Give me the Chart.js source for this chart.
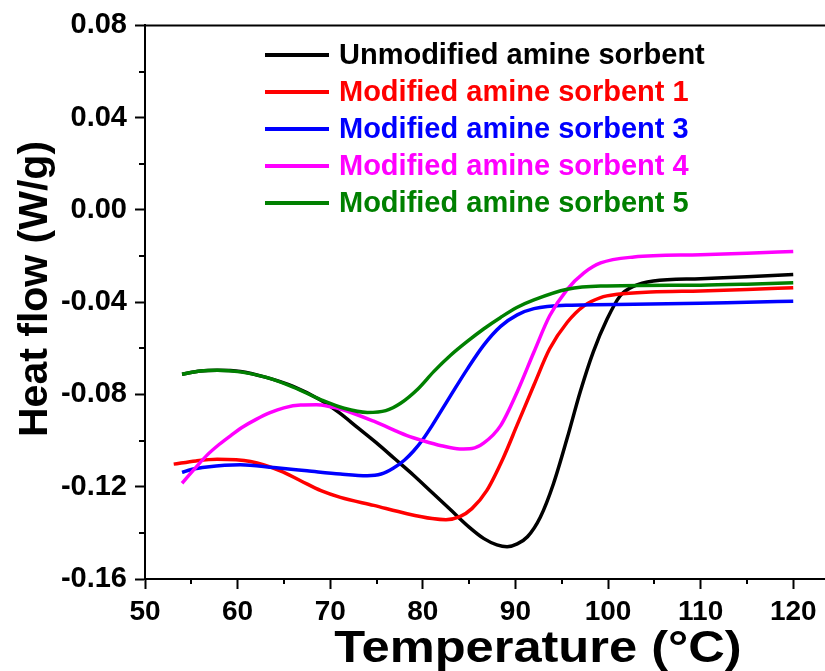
<!DOCTYPE html>
<html>
<head>
<meta charset="utf-8">
<script src="https://cdn.jsdelivr.net/npm/chart.js@4.4.0/dist/chart.umd.min.js"></script>
<style>
  body { margin: 0; background: #fff; }
</style>
</head>
<body>
<canvas id="c" width="825" height="671"></canvas>
<script>
// series labels + colours
var seriesNames = ['Unmodified amine sorbent', 'Modified amine sorbent 1', 'Modified amine sorbent 3',
                   'Modified amine sorbent 4', 'Modified amine sorbent 5'];
var seriesColors = ['#000000', '#ff0000', '#0000ff', '#ff00ff', '#008000'];

// temperature (C) / heat flow (W/g)
var unmodT = [54.0, 56.0, 57.8, 60.3, 63.0, 66.0, 69.0, 71.0, 73.0, 75.0, 77.0, 79.0, 81.0, 83.0, 85.0, 86.6, 88.0, 89.1, 90.2, 91.3, 92.7, 94.1, 95.6, 97.0, 98.4, 99.9, 101.3, 102.8, 104.9, 110, 115, 120];
var unmodQ = [-0.0712, -0.0698, -0.0695, -0.0700, -0.0725, -0.0765, -0.0825, -0.0880, -0.0945, -0.1010, -0.1080, -0.1150, -0.1225, -0.1300, -0.1375, -0.1425, -0.1452, -0.1460, -0.1448, -0.1417, -0.1331, -0.1188, -0.0988, -0.0788, -0.0616, -0.0473, -0.0373, -0.0330, -0.0308, -0.0298, -0.0290, -0.0280];

var mod1T = [53.1, 55.5, 57.8, 61.4, 64.6, 66.8, 69.0, 71.1, 74.7, 78.3, 81.0, 82.5, 84.0, 85.3, 86.9, 88.7, 90.2, 92.0, 93.7, 95.6, 97.4, 99.2, 101.0, 104.6, 110, 115, 120];
var mod1Q = [-0.1102, -0.1088, -0.1081, -0.1091, -0.1131, -0.1174, -0.1217, -0.1246, -0.1281, -0.1317, -0.1338, -0.1343, -0.1330, -0.1295, -0.1217, -0.1074, -0.0931, -0.0759, -0.0602, -0.0487, -0.0416, -0.0380, -0.0366, -0.0356, -0.0351, -0.0345, -0.0337];

var mod3T = [54.0, 55.0, 56.7, 60.3, 63.9, 67.5, 71.1, 74.0, 75.5, 76.8, 78.0, 79.0, 80.0, 81.0, 82.0, 83.0, 84.8, 86.6, 88.4, 90.2, 92.0, 95.6, 102.8, 110, 115, 120];
var mod3Q = [-0.1138, -0.1125, -0.1114, -0.1105, -0.1117, -0.1131, -0.1145, -0.1152, -0.1145, -0.1120, -0.1085, -0.1045, -0.0995, -0.0935, -0.0870, -0.0805, -0.0690, -0.0585, -0.0505, -0.0455, -0.0428, -0.0413, -0.0409, -0.0405, -0.0400, -0.0396];

var mod4T = [54.0, 55.3, 56.7, 58.0, 59.3, 60.6, 62.0, 63.5, 65.0, 66.8, 68.5, 70.0, 71.1, 74.7, 78.3, 80.0, 82.0, 84.0, 85.3, 86.6, 88.4, 90.2, 92.0, 93.7, 95.6, 97.4, 99.2, 102.8, 110, 115, 120];
var mod4Q = [-0.1185, -0.1125, -0.1063, -0.1017, -0.0977, -0.0940, -0.0908, -0.0879, -0.0858, -0.0846, -0.0845, -0.0853, -0.0863, -0.0916, -0.0978, -0.1000, -0.1022, -0.1036, -0.1034, -0.1010, -0.0935, -0.0788, -0.0616, -0.0459, -0.0344, -0.0273, -0.0230, -0.0204, -0.0194, -0.0188, -0.0180];

var mod5T = [54.0, 56.0, 57.8, 60.3, 63.0, 66.0, 69.0, 71.5, 74.0, 76.0, 77.6, 79.5, 81.2, 83.0, 84.8, 86.6, 88.4, 90.2, 92.0, 95.6, 99.2, 110, 115, 120];
var mod5Q = [-0.0712, -0.0698, -0.0695, -0.0702, -0.0725, -0.0768, -0.0823, -0.0860, -0.0878, -0.0870, -0.0838, -0.0775, -0.0700, -0.0630, -0.0570, -0.0515, -0.0466, -0.0422, -0.0390, -0.0344, -0.0330, -0.0326, -0.0322, -0.0316];

var seriesT = [unmodT, mod1T, mod3T, mod4T, mod5T];
var seriesQ = [unmodQ, mod1Q, mod3Q, mod4Q, mod5Q];

var xMinor = [55, 65, 75, 85, 95, 105, 115];
var yMinor = [0.06, 0.02, -0.02, -0.06, -0.10, -0.14];

var FONT = 'Liberation Sans, Arial, Helvetica, sans-serif';

var datasets = seriesNames.map(function(name, i) {
  return {
    label: name,
    data: seriesT[i].map(function(t, j) { return { x: t, y: seriesQ[i][j] }; }),
    borderColor: seriesColors[i],
    backgroundColor: seriesColors[i],
    borderWidth: 3.5,
    pointRadius: 0,
    cubicInterpolationMode: 'monotone',
    fill: false,
    order: 5 - i
  };
});

// frame top line, minor ticks, axis titles and the in-plot legend
var extras = {
  id: 'extras',
  afterDraw: function(chart) {
    var ctx = chart.ctx, a = chart.chartArea;
    var xs = chart.scales.x, ys = chart.scales.y;
    ctx.save();
    ctx.strokeStyle = '#000';
    ctx.lineWidth = 2;
    ctx.beginPath();
    ctx.moveTo(a.left - 1, a.top);
    ctx.lineTo(a.right, a.top);
    ctx.stroke();

    ctx.beginPath();
    xMinor.forEach(function(v) {
      var p = Math.round(xs.getPixelForValue(v));
      ctx.moveTo(p, a.bottom);
      ctx.lineTo(p, a.bottom + 5);
    });
    yMinor.forEach(function(v) {
      var p = Math.round(ys.getPixelForValue(v));
      ctx.moveTo(a.left, p);
      ctx.lineTo(a.left - 6, p);
    });
    ctx.stroke();

    ctx.fillStyle = '#000';
    ctx.textAlign = 'center';
    ctx.textBaseline = 'alphabetic';
    ctx.save();
    ctx.translate(538, 662);
    ctx.scale(1.15, 1);
    ctx.font = 'bold 44px ' + FONT;
    ctx.fillText('Temperature (\u00B0C)', 0, 0);
    ctx.restore();

    ctx.save();
    ctx.translate(47, 289);
    ctx.rotate(-Math.PI / 2);
    ctx.font = 'bold 41px ' + FONT;
    ctx.fillText('Heat flow (W/g)', 0, 0);
    ctx.restore();

    ctx.font = 'bold 29px ' + FONT;
    ctx.textAlign = 'left';
    ctx.textBaseline = 'middle';
    ctx.lineWidth = 4;
    chart.data.datasets.forEach(function(ds, i) {
      var y = 55 + i * 37;
      ctx.strokeStyle = ds.borderColor;
      ctx.beginPath();
      ctx.moveTo(265, y);
      ctx.lineTo(329, y);
      ctx.stroke();
      ctx.fillStyle = ds.borderColor;
      ctx.fillText(ds.label, 339, y + 1);
    });
    ctx.restore();
  }
};

new Chart(document.getElementById('c'), {
  type: 'line',
  data: { datasets: datasets },
  options: {
    responsive: false,
    animation: false,
    layout: { padding: { top: 20, right: 0, left: 0, bottom: 0 } },
    plugins: { legend: { display: false }, tooltip: { enabled: false } },
    scales: {
      x: {
        type: 'linear',
        min: 50,
        max: 123.43,
        afterFit: function(s) { s.height = 92; },
        border: { display: true, color: '#000', width: 2 },
        grid: { drawOnChartArea: false, drawTicks: true, tickLength: 10, tickWidth: 2, tickColor: '#000' },
        ticks: {
          stepSize: 10,
          includeBounds: false,
          maxRotation: 0,
          padding: 6,
          color: '#000',
          font: { family: FONT, size: 28, weight: 'bold' }
        }
      },
      y: {
        min: -0.16,
        max: 0.08,
        afterFit: function(s) { s.width = 145; },
        border: { display: true, color: '#000', width: 2 },
        grid: { drawOnChartArea: false, drawTicks: true, tickLength: 10, tickWidth: 2, tickColor: '#000' },
        ticks: {
          stepSize: 0.04,
          padding: 8,
          color: '#000',
          font: { family: FONT, size: 29, weight: 'bold' },
          callback: function(v) { return v.toFixed(2); }
        }
      }
    }
  },
  plugins: [extras]
});
</script>
</body>
</html>
